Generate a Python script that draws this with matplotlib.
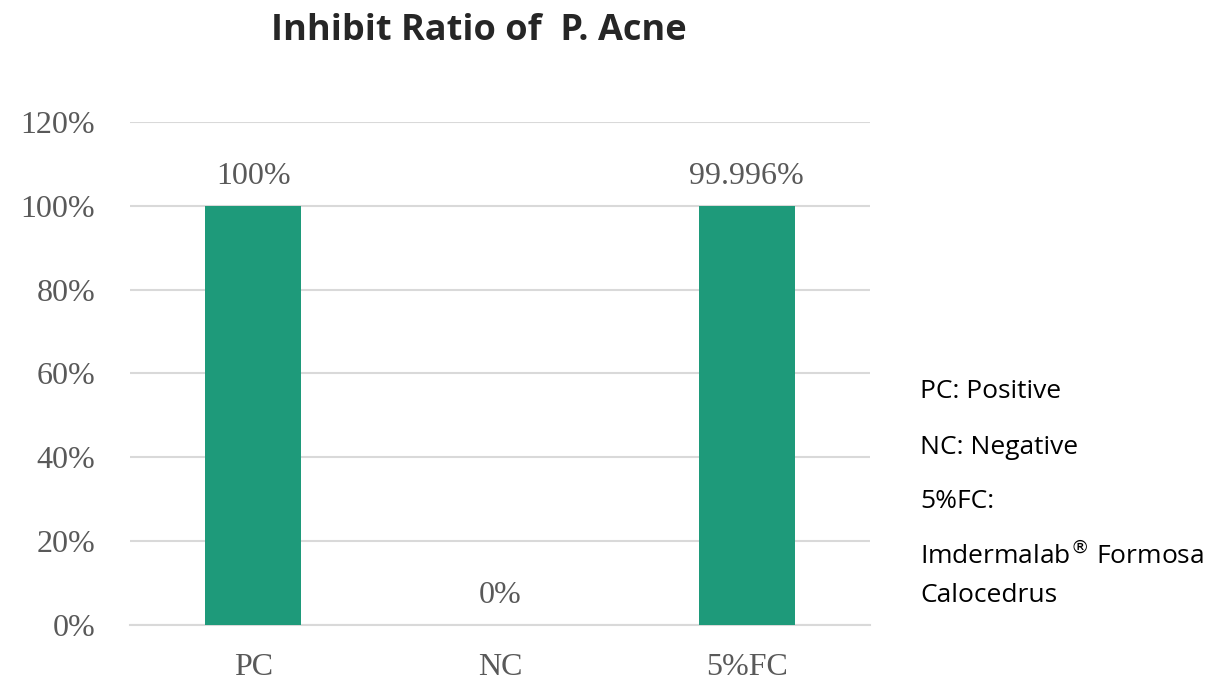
import matplotlib
matplotlib.use("Agg")
import matplotlib.pyplot as plt

# Chart data
categories = ["PC", "NC", "5%FC"]
values = [1.0, 0.0, 0.99996]
value_labels = ["100%", "0%", "99.996%"]
y_ticks = [0, 0.2, 0.4, 0.6, 0.8, 1.0, 1.2]
y_tick_labels = ["0%", "20%", "40%", "60%", "80%", "100%", "120%"]
notes = ["PC: Positive", "NC: Negative", "5%FC:"]

bar_color = "#1E9A7A"
text_color = "#595959"
serif = "Liberation Serif"
sans = "Open Sans"

fig = plt.figure(figsize=(12.27, 6.8), dpi=100)
ax = fig.add_axes([0.106, 0.081, 0.603, 0.7396])

x = range(len(categories))
ax.bar(x, values, width=0.39, color=bar_color, zorder=3)

# Value labels above bars
for xi, v, lab in zip(x, values, value_labels):
    ax.text(xi, v + 0.035, lab, ha="center", va="bottom",
            fontsize=23, family=serif, color=text_color)

ax.set_xlim(-0.5, 2.5)
ax.set_ylim(0, 1.2)
ax.set_yticks(y_ticks)
ax.set_yticklabels(y_tick_labels, family=serif, fontsize=23, color=text_color)
ax.set_xticks(list(x))
ax.set_xticklabels(categories, family=serif, fontsize=23, color=text_color)
ax.tick_params(axis="both", length=0)
ax.tick_params(axis="y", pad=25)
ax.tick_params(axis="x", pad=20)

ax.grid(axis="y", color="#D9D9D9", linewidth=1.5, zorder=0)
for side in ["top", "right", "left"]:
    ax.spines[side].set_visible(False)
ax.spines["bottom"].set_color("#D9D9D9")
ax.spines["bottom"].set_linewidth(1.5)

# Title
fig.text(0.39, 0.955, "Inhibit Ratio of  P. Acne", ha="center", va="center",
         fontsize=26, fontweight="bold", family=sans, color="#262626")

# Side notes
note_y = [392, 447, 501]
for ny, note in zip(note_y, notes):
    fig.text(920 / 1227, 1 - ny / 680, note, ha="left", va="center",
             fontsize=19, family=sans, color="black")
fig.text(920 / 1227, 1 - 556 / 680, r"Imdermalab$^{\circledR}$ Formosa",
         ha="left", va="center", fontsize=19, family=sans, color="black")
fig.text(920 / 1227, 1 - 596 / 680, "Calocedrus", ha="left", va="center",
         fontsize=19, family=sans, color="black")

fig.savefig("out.png", dpi=100)
